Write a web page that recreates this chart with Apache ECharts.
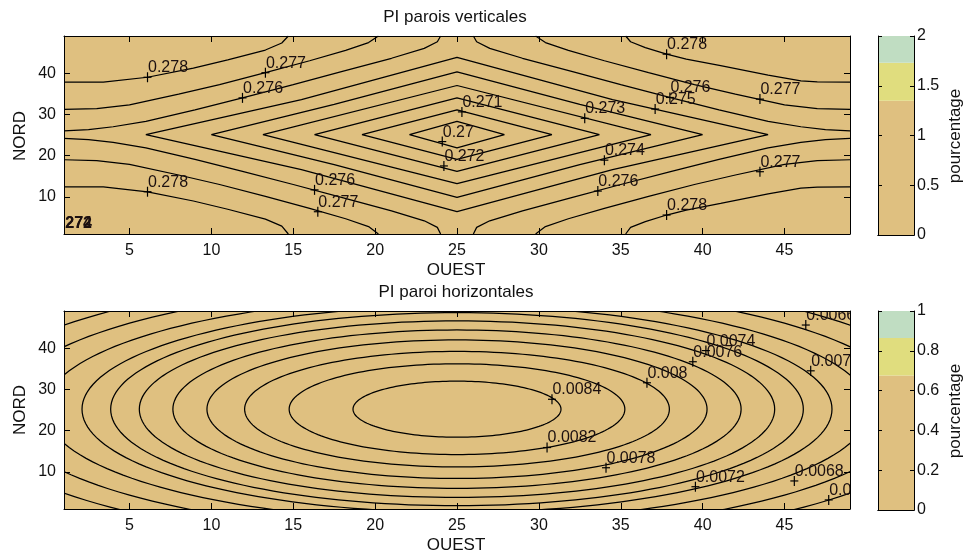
<!DOCTYPE html>
<html><head><meta charset="utf-8">
<script src="https://cdn.jsdelivr.net/npm/echarts@6/dist/echarts.min.js"></script>
<style>html,body{margin:0;padding:0;background:#fff}#c{width:967px;height:559px}</style>
</head><body><div id="c"></div>
<script>
// ---------- axes ----------
const xTicks = [5, 10, 15, 20, 25, 30, 35, 40, 45];
const yTicks = [10, 20, 30, 40];
const axisMin = 1, axisMax = 49;
const cb1Ticks = [0, 0.5, 1, 1.5, 2];
const cb2Ticks = [0, 0.2, 0.4, 0.6, 0.8, 1];
const cb1Edges = [0, 1.35, 1.73, 2];
const cb2Edges = [0, 0.676, 0.864, 1];
const cbColors = ['#DFC080', '#E0DD7E', '#C0DDC2'];

// ---------- top plot: PI parois verticales (contour polylines, data units) ----------
const v270 = [[27.9,25.1],[25,28.3],[22.1,25.1],[25,21.9],[27.9,25.1]];
const v271 = [[30.8,25.1],[25,31.1],[19.2,25.1],[25,19.1],[30.8,25.1]];
const v272 = [[33.7,25.1],[25,34.0],[16.3,25.1],[25,16.2],[33.7,25.1]];
const v273 = [[36.85,25.1],[25,37.0],[13.15,25.1],[25,13.2],[36.85,25.1]];
const v274 = [[40,25.1],[32.5,32.4],[25,40.3],[17.5,32.4],[10,25.1],[17.5,17.8],[25,9.9],[32.5,17.8],[40,25.1]];
const v275 = [[44,25.1],[34.5,33.6],[25,43.8],[15.5,33.6],[6,25.1],[15.5,16.6],[25,6.4],[34.5,16.6],[44,25.1]];
const v276UL = [[1,26.0],[2.5,26.3],[4,27.0],[6,28.3],[9,31.1],[11.9,34.0],[15,37.2],[18,40.4],[21,43.6],[23,46.0],[23.8,47.6],[24.0,49]];
const v276UR = [[49,26.0],[47.5,26.3],[46,27.0],[44,28.3],[41,31.1],[38.1,34.0],[35,37.2],[32,40.4],[29,43.6],[27,46.0],[26.2,47.6],[26.0,49]];
const v276LL = [[1,24.2],[2.5,23.9],[4,23.2],[6,21.9],[9,19.1],[11.9,16.2],[15,13.0],[18,9.8],[21,6.6],[23,4.2],[23.8,2.6],[24.0,1]];
const v276LR = [[49,24.2],[47.5,23.9],[46,23.2],[44,21.9],[41,19.1],[38.1,16.2],[35,13.0],[32,9.8],[29,6.6],[27,4.2],[26.2,2.6],[26.0,1]];
const v277UL = [[1,31.2],[3,31.4],[5,32.3],[8,34.9],[10.5,37.2],[13.3,40.1],[16,43.0],[18.2,45.5],[19.6,47.4],[20.2,49]];
const v277UR = [[49,31.2],[47,31.4],[45,32.3],[42,34.9],[39.5,37.2],[36.7,40.1],[34,43.0],[31.8,45.5],[30.4,47.4],[29.8,49]];
const v277LL = [[1,19.0],[3,18.8],[5,17.9],[8,15.3],[10.5,13.0],[13.3,10.1],[16,7.2],[18.2,4.7],[19.6,2.8],[20.2,1]];
const v277LR = [[49,19.0],[47,18.8],[45,17.9],[42,15.3],[39.5,13.0],[36.7,10.1],[34,7.2],[31.8,4.7],[30.4,2.8],[29.8,1]];
const v278UL = [[1,37.8],[3.4,37.8],[6.1,39.0],[8.9,41.2],[11,43.2],[13.3,45.6],[14.3,47.3],[14.7,49]];
const v278UR = [[49,37.8],[47,37.85],[46,38.1],[44,39.5],[41.1,41.8],[39,43.4],[37.8,44.6],[36.5,46.2],[35.6,47.6],[35.3,49]];
const v278LL = [[1,12.4],[3.4,12.4],[6.1,11.2],[8.9,9.0],[11,7.0],[13.3,4.6],[14.3,2.9],[14.7,1]];
const v278LR = [[49,12.4],[47,12.35],[46,12.1],[44,10.7],[41.1,8.4],[39,6.8],[37.8,5.6],[36.5,4.0],[35.6,2.6],[35.3,1]];
const vertContours = [v270, v271, v272, v273, v274, v275,
  v276UL, v276UR, v276LL, v276LR, v277UL, v277UR, v277LL, v277LR, v278UL, v278UR, v278LL, v278LR];

const vertLabelText = ['0.278','0.277','0.276','0.271','0.27','0.272','0.278','0.276','0.277','0.273','0.274','0.276','0.278','0.276','0.275','0.277','0.277','0.278'];
const vertLabelPos = [[6.1,39.0],[13.3,40.1],[11.9,34.0],[25.3,30.6],[24.1,23.4],[24.2,17.5],[6.1,11.25],[16.3,11.7],[16.5,6.4],
  [32.8,29.05],[34.0,18.9],[33.6,11.4],[37.8,44.6],[38.0,34.1],[37.1,31.3],[43.5,33.7],[43.5,16.1],[37.8,5.6]];
const cornerText = ['272', '274'];
const cornerPos = [1.08, 1.5];

// ---------- bottom plot: PI paroi horizontales (elliptic contours) ----------
const horizLevels = [0.0084, 0.0082, 0.008, 0.0078, 0.0076, 0.0074, 0.0072, 0.007, 0.0068, 0.0066, 0.0064];
const horizRx = [6.35, 10.25, 12.97, 15.27, 17.35, 19.4, 21.15, 22.9, 25.2, 27.8, 30.5];
const horizRy = [6.8, 11.0, 14.0, 16.8, 19.2, 21.4, 23.4, 25.0, 27.2, 30.0, 33.0];
const horizCenter = [25, 25.2];
const horizLabelText = ['0.0084','0.0082','0.008','0.0078','0.0076','0.0074','0.0072','0.007','0.0068','0.0066','0.0064'];
const horizLabelPos = [[30.8,27.6],[30.5,15.9],[36.6,31.6],[34.1,11.0],[39.4,36.7],[40.2,39.4],[39.56,6.4],[46.6,34.5],[45.6,7.8],[46.3,45.6],[47.7,3.2]];

// ---------- build ----------
const FONT = "'Liberation Sans', Arial, sans-serif";
const INK = '#111';
const LINE_W = 1.25;

function xAx(grid, pos, labels) {
  return { type:'value', gridIndex:grid, position:pos, min:axisMin, max:axisMax, z:5,
    axisLine:{show:true, onZero:false, lineStyle:{color:'#000', width:1}},
    axisTick:{show:true, inside:true, length:6, customValues:xTicks, lineStyle:{color:'#000'}},
    axisLabel:{show:labels, customValues:xTicks, fontSize:16, fontFamily:FONT, color:INK, margin:9},
    splitLine:{show:false} };
}
function yAx(grid, pos, labels) {
  return { type:'value', gridIndex:grid, position:pos, min:axisMin, max:axisMax, z:5,
    axisLine:{show:true, onZero:false, lineStyle:{color:'#000', width:1}},
    axisTick:{show:true, inside:true, length:6, customValues:yTicks, lineStyle:{color:'#000'}},
    axisLabel:{show:labels, customValues:yTicks, fontSize:16, fontFamily:FONT, color:INK, margin:8},
    splitLine:{show:false} };
}
function cbX(grid, pos) {
  return { type:'category', gridIndex:grid, position:pos, data:['c'], z:5,
    axisLine:{show:true, lineStyle:{color:'#000', width:1}}, axisTick:{show:false}, axisLabel:{show:false} };
}
function cbY(grid, pos, labels, edges, ticks) {
  return { type:'value', gridIndex:grid, position:pos, min:edges[0], max:edges[edges.length-1], z:5,
    axisLine:{show:true, onZero:false, lineStyle:{color:'#000', width:1}},
    axisTick:{show:true, inside:true, length:4, customValues:ticks, lineStyle:{color:'#000'}},
    axisLabel:{show:labels, customValues:ticks, fontSize:16, fontFamily:FONT, color:INK, margin:3},
    splitLine:{show:false} };
}

const series = [];
vertContours.forEach(pts => series.push({
  type:'line', xAxisIndex:0, yAxisIndex:0, data:pts, symbol:'none', showSymbol:false,
  lineStyle:{color:'#000', width:LINE_W}, silent:true, clip:true, z:2
}));

function clipOf(cs) { return {type:'rect', shape:{x:cs.x, y:cs.y, width:cs.width, height:cs.height}}; }

series.push({
  type:'custom', xAxisIndex:2, yAxisIndex:2, silent:true, z:2,
  data: horizRx.map((rx, i) => [horizCenter[0], horizCenter[1], rx, horizRy[i]]),
  encode:{x:0, y:1},
  renderItem(params, api) {
    const cx = api.value(0), cy = api.value(1), rx = api.value(2), ry = api.value(3);
    const pts = [];
    for (let k = 0; k <= 180; k++) {
      const t = 2 * Math.PI * k / 180;
      pts.push(api.coord([cx + rx * Math.cos(t), cy + ry * Math.sin(t)]));
    }
    return {type:'polyline', shape:{points:pts}, style:{stroke:'#000', lineWidth:LINE_W, fill:null},
      clipPath: clipOf(params.coordSys)};
  }
});

function labelSeries(xi, yi, pos, texts) {
  return {
    type:'custom', xAxisIndex:xi, yAxisIndex:yi, silent:true, z:3, data:pos, encode:{x:0, y:1},
    renderItem(params, api) {
      const p = api.coord([api.value(0), api.value(1)]);
      const cs = params.coordSys;
      return {type:'group', children:[
        {type:'line', shape:{x1:p[0]-4, y1:p[1], x2:p[0]+4, y2:p[1]}, style:{stroke:'#000', lineWidth:1.2}, clipPath:clipOf(cs)},
        {type:'line', shape:{x1:p[0], y1:p[1]-5, x2:p[0], y2:p[1]+5}, style:{stroke:'#000', lineWidth:1.2}, clipPath:clipOf(cs)},
        {type:'text', style:{x:p[0]+0.5, y:p[1]-9.5, text:texts[params.dataIndex], fontSize:16, fontFamily:FONT,
          fill:'#1c1010', align:'left', verticalAlign:'middle'}, clipPath:clipOf(cs)}
      ]};
    }
  };
}
series.push(labelSeries(0, 0, vertLabelPos, vertLabelText));
series.push(labelSeries(2, 2, horizLabelPos, horizLabelText));

series.push({
  type:'custom', xAxisIndex:0, yAxisIndex:0, silent:true, z:3, data:[cornerPos], encode:{x:0, y:1},
  renderItem(params, api) {
    const p = api.coord([api.value(0), api.value(1)]);
    return {type:'group', children: cornerText.map(t => ({type:'text',
      style:{x:p[0], y:p[1], text:t, fontSize:16, fontWeight:'bold', fontFamily:FONT, fill:'#1c1010', align:'left', verticalAlign:'bottom'}}))};
  }
});

function cbSeries(xi, yi, edges, stack) {
  return edges.slice(1).map((e, i) => ({
    type:'bar', xAxisIndex:xi, yAxisIndex:yi, stack:stack, barWidth:'100%', silent:true,
    data:[e - edges[i]], itemStyle:{color:cbColors[i]}
  }));
}
series.push(...cbSeries(4, 4, cb1Edges, 'cb1'));
series.push(...cbSeries(6, 6, cb2Edges, 'cb2'));

function txt(x, y, s, rot) {
  return {type:'text', x:x, y:y, rotation:rot || 0, silent:true,
    style:{text:s, fontSize:17, fontFamily:FONT, fill:INK, align:'center', verticalAlign:'middle'}};
}

const option = {
  animation:false,
  backgroundColor:'#ffffff',
  grid:[
    {left:64, top:36, width:786, height:198, show:true, backgroundColor:'#DFC080', borderWidth:0},
    {left:64, top:311, width:786, height:198, show:true, backgroundColor:'#DFC080', borderWidth:0},
    {left:878, top:36, width:36, height:199},
    {left:878, top:311, width:36, height:199}
  ],
  xAxis:[xAx(0,'bottom',true), xAx(0,'top',false), xAx(1,'bottom',true), xAx(1,'top',false),
         cbX(2,'bottom'), cbX(2,'top'), cbX(3,'bottom'), cbX(3,'top')],
  yAxis:[yAx(0,'left',true), yAx(0,'right',false), yAx(1,'left',true), yAx(1,'right',false),
         cbY(2,'right',true,cb1Edges,cb1Ticks), cbY(2,'left',false,cb1Edges,cb1Ticks),
         cbY(3,'right',true,cb2Edges,cb2Ticks), cbY(3,'left',false,cb2Edges,cb2Ticks)],
  series: series,
  graphic:[
    txt(455, 17, 'PI parois verticales'),
    txt(456, 292, 'PI paroi horizontales'),
    txt(456, 270, 'OUEST'),
    txt(456, 545, 'OUEST'),
    txt(20, 136, 'NORD', Math.PI/2),
    txt(20, 410, 'NORD', Math.PI/2),
    txt(955, 136, 'pourcentage', Math.PI/2),
    txt(955, 411, 'pourcentage', Math.PI/2)
  ]
};
const chart = echarts.init(document.getElementById('c'), null, {renderer:'canvas'});
chart.setOption(option);
</script>
</body></html>
